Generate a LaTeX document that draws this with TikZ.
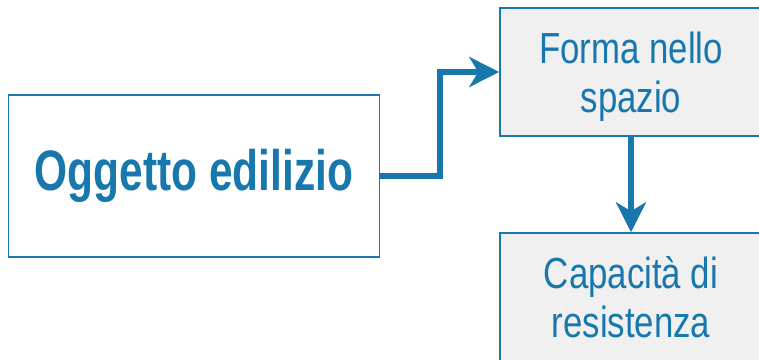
\documentclass[tikz,border=0pt]{standalone}
\usepackage{fontspec}
\setmainfont{Liberation Sans}[FakeStretch=0.8]
\newfontfamily\boldcond{Liberation Sans}[FakeStretch=0.745,UprightFont=*-Bold]
\usetikzlibrary{arrows.meta}
\definecolor{ablue}{HTML}{1878AE}
\definecolor{agray}{HTML}{F0F0F0}
\begin{document}
\begin{tikzpicture}[x=1pt,y=-1pt,
  box/.style={draw=ablue,line width=1.5pt,rectangle,inner sep=0pt,text=ablue,align=center},
  smallbox/.style={box,fill=agray,minimum width=262pt,minimum height=128pt,font=\fontsize{43.5}{49}\selectfont},
  arr/.style={draw=ablue,line width=6pt,-{Stealth[length=30pt,width=30pt,inset=9pt]}}]
\useasboundingbox (0,0) rectangle (759,359);
\node[box,fill=white,minimum width=371pt,minimum height=162pt,font=\fontsize{57}{60}\boldcond] (left) at (194,176) {Oggetto edilizio};
\node[smallbox,text depth=0pt] (top) at (631,72) {\raisebox{0pt}{Forma nello}\\spazio};
\node[smallbox] (bot) at (631,297) {Capacità di\\resistenza};
\draw[arr] (left.east) -- ++(60,0) |- (top.west);
\draw[arr] (top.south) -- (bot.north);
\end{tikzpicture}
\end{document}
